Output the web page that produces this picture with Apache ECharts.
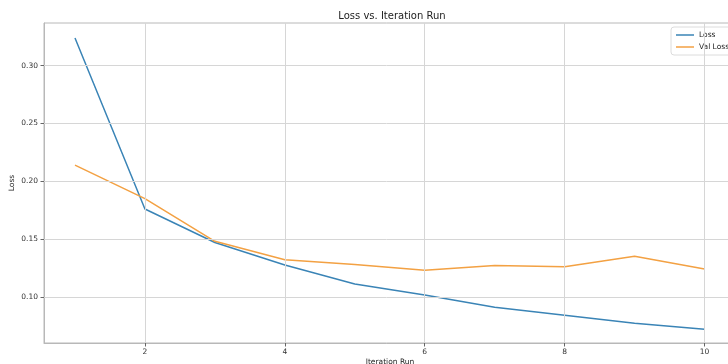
<!DOCTYPE html>
<html>
<head>
<meta charset="utf-8">
<script src="https://cdn.jsdelivr.net/npm/echarts@6/dist/echarts.min.js"></script>
<style>html,body{margin:0;padding:0;background:#fff;}#c{width:728px;height:364px;}</style>
</head>
<body>
<div id="c"></div>
<script>
const iterations = [1, 2, 3, 4, 5, 6, 7, 8, 9, 10];
const loss = [0.324, 0.176, 0.147, 0.1275, 0.111, 0.1015, 0.091, 0.084, 0.077, 0.072];
const valLoss = [0.214, 0.185, 0.148, 0.132, 0.128, 0.123, 0.127, 0.126, 0.135, 0.124];
const xTicks = [2, 4, 6, 8, 10];
const yTicks = [0.10, 0.15, 0.20, 0.25, 0.30];

const chart = echarts.init(document.getElementById('c'));
const gridColor = '#d6d6d6';
const font = 'DejaVu Sans';
chart.setOption({
  animation: false,
  backgroundColor: '#fff',
  title: {
    text: 'Loss vs. Iteration Run',
    left: 387, textAlign: 'center', top: 6,
    textStyle: { fontSize: 10, fontWeight: 'normal', color: '#222', fontFamily: font }
  },
  legend: {
    orient: 'vertical', left: 671, top: 27,
    backgroundColor: 'rgba(255,255,255,0.9)', borderColor: '#dcdcdc', borderWidth: 1, borderRadius: 3,
    padding: [4, 6, 4, 5], itemGap: 4, itemWidth: 18, itemHeight: 1.5, icon: 'rect',
    textStyle: { fontSize: 7.5, color: '#222', fontFamily: font },
    data: ['Loss', 'Val Loss']
  },
  grid: { left: 44, right: -8, top: 23, bottom: 21, show: true, borderColor: '#b8b8b8', borderWidth: 1,
    outerBoundsMode: 'none', containLabel: false },
  xAxis: {
    type: 'value', min: 0.557, max: 10.45,
    name: 'Iteration Run', nameLocation: 'middle', nameGap: 15, nameMoveOverlap: false,
    nameTextStyle: { fontSize: 7.5, color: '#222', fontFamily: font },
    axisLine: { show: true, lineStyle: { color: '#b8b8b8' } },
    axisTick: { show: true, length: 3.5, customValues: xTicks, lineStyle: { color: '#666' } },
    axisLabel: { customValues: xTicks, fontSize: 7.5, color: '#333', margin: 5, fontFamily: font },
    splitLine: { show: false }
  },
  yAxis: {
    type: 'value', min: 0.060, max: 0.337,
    name: 'Loss', nameLocation: 'middle', nameGap: 28, nameMoveOverlap: false,
    nameTextStyle: { fontSize: 7.5, color: '#222', fontFamily: font },
    axisLine: { show: true, lineStyle: { color: '#b8b8b8' } },
    axisTick: { show: true, length: 3.5, customValues: yTicks, lineStyle: { color: '#666' } },
    axisLabel: { customValues: yTicks, fontSize: 7.5, color: '#333', margin: 6, fontFamily: font,
      formatter: v => v.toFixed(2) },
    splitLine: { show: false }
  },
  series: [
    {
      name: 'Loss', type: 'line', symbol: 'none',
      data: iterations.map((x, i) => [x, loss[i]]),
      lineStyle: { color: '#3a84b6', width: 1.5 }, itemStyle: { color: '#3a84b6' },
      markLine: {
        silent: true, symbol: 'none', label: { show: false },
        lineStyle: { color: gridColor, width: 1, type: 'solid' },
        data: xTicks.map(v => ({ xAxis: v })).concat(yTicks.map(v => ({ yAxis: v })))
      },
      z: 3
    },
    {
      name: 'Val Loss', type: 'line', symbol: 'none',
      data: iterations.map((x, i) => [x, valLoss[i]]),
      lineStyle: { color: '#f3a143', width: 1.5 }, itemStyle: { color: '#f3a143' },
      z: 3
    }
  ]
});
</script>
</body>
</html>
